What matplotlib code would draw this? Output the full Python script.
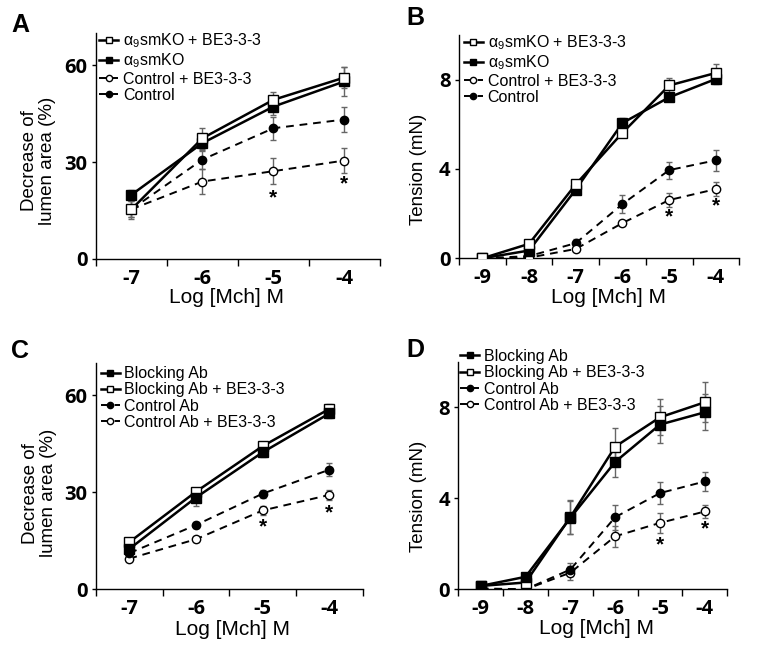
import matplotlib.pyplot as plt
import numpy as np

plt.rcParams['font.family'] = ['Liberation Sans', 'DejaVu Sans']
plt.rcParams['mathtext.fontset'] = 'custom'
plt.rcParams['mathtext.rm'] = 'Liberation Sans'
plt.rcParams['mathtext.it'] = 'Liberation Sans'

# ---- data ----
# panel A : lumen area, alpha9smKO mice
xA = [-7, -6, -5, -4]
a_ko_be = [15.4, 37.4, 49.3, 56.2]
a_ko_be_err = [2.5, 3.2, 2.4, 3.3]
a_ko = [19.9, 35.9, 47.2, 55.0]
a_ko_err = [1.5, 2.5, 2.5, 4.4]
a_ctl_be = [15.4, 24.0, 27.2, 30.5]
a_ctl_be_err = [3.0, 3.8, 4.0, 4.0]
a_ctl = [15.4, 30.8, 40.5, 43.2]
a_ctl_err = [2.5, 3.0, 3.5, 4.0]
a_star = [(-5, 19.0), (-4, 23.3)]

# panel B : tension, alpha9smKO mice
xB = [-9, -8, -7, -6, -5, -4]
b_ko_be = [0.0, 0.65, 3.31, 5.62, 7.74, 8.30]
b_ko_be_err = [0.0, 0.1, 0.1, 0.15, 0.33, 0.38]
b_ko = [0.0, 0.35, 3.08, 6.06, 7.21, 8.03]
b_ko_err = [0.0, 0.1, 0.1, 0.2, 0.15, 0.24]
b_ctl_be = [0.0, 0.03, 0.42, 1.58, 2.61, 3.10]
b_ctl_be_err = [0.0, 0.0, 0.1, 0.1, 0.3, 0.33]
b_ctl = [0.0, 0.1, 0.68, 2.43, 3.95, 4.39]
b_ctl_err = [0.0, 0.05, 0.2, 0.4, 0.38, 0.47]
b_star = [(-5, 1.85), (-4, 2.35)]

# panel C : lumen area, blocking antibody
xC = [-7, -6, -5, -4]
c_blk = [12.5, 28.4, 42.4, 54.4]
c_blk_err = [1.5, 2.7, 1.5, 1.5]
c_blk_be = [14.6, 30.2, 44.3, 55.8]
c_blk_be_err = [1.0, 1.2, 1.2, 1.4]
c_ctl = [11.2, 19.9, 29.6, 37.0]
c_ctl_err = [1.0, 1.0, 1.2, 2.0]
c_ctl_be = [9.5, 15.5, 24.4, 29.2]
c_ctl_be_err = [0.8, 0.8, 1.5, 1.5]
c_star = [(-5, 19.3), (-4, 23.5)]

# panel D : tension, blocking antibody
xD = [-9, -8, -7, -6, -5, -4]
d_blk = [0.15, 0.55, 3.14, 5.60, 7.24, 7.78]
d_blk_err = [0.05, 0.15, 0.73, 0.65, 0.8, 0.8]
d_blk_be = [0.15, 0.30, 3.17, 6.27, 7.56, 8.22]
d_blk_be_err = [0.05, 0.1, 0.76, 0.83, 0.8, 0.87]
d_ctl = [0.04, 0.0, 0.87, 3.17, 4.23, 4.74]
d_ctl_err = [0.0, 0.0, 0.3, 0.55, 0.47, 0.42]
d_ctl_be = [0.0, 0.0, 0.73, 2.33, 2.92, 3.42]
d_ctl_be_err = [0.0, 0.0, 0.3, 0.47, 0.44, 0.3]
d_star = [(-5, 1.95), (-4, 2.65)]

KO_BE = 'α$_9$smKO + BE3-3-3'
KO = 'α$_9$smKO'


def series(ax, x, y, err, label, marker, filled, dashed):
    ax.errorbar(x, y, yerr=err, fmt='none', ecolor='#666666', elinewidth=1.0,
                capsize=2, capthick=1.0, zorder=1)
    ax.plot(x, y, color='black', lw=1.4 if dashed else 1.8,
            ls=(0, (4, 3)) if dashed else '-', marker=marker, ms=6.5 if marker == 's' else 6,
            mfc='black' if filled else 'white', mec='black', mew=1.0,
            label=label, zorder=3)


def style(ax, xmin, ylim, yticks, ylabel, lab_xy, xlab_xy):
    ax.set_xlim(xmin - 0.5, -3.5)
    ax.set_ylim(0, ylim)
    ax.spines['top'].set_visible(False)
    ax.spines['right'].set_visible(False)
    ax.spines['left'].set_linewidth(1.0)
    ax.spines['bottom'].set_linewidth(1.0)
    ax.set_xticks(np.arange(xmin, -3, 1))
    ax.set_xticklabels([str(v) for v in range(xmin, -3)])
    ax.set_xticks(np.arange(xmin - 0.5, -3.4, 1), minor=True)
    ax.tick_params(axis='x', which='major', length=0, pad=7, labelsize=14.5)
    ax.tick_params(axis='x', which='minor', length=5, width=1.0, direction='out')
    ax.set_yticks(yticks)
    ax.tick_params(axis='y', length=3, width=1.0, pad=3, labelsize=14.5)
    for t in ax.get_xticklabels() + ax.get_yticklabels():
        t.set_fontweight('bold')
        t.set_family(['Open Sans', 'DejaVu Sans'])
    ax.set_ylabel(ylabel, fontsize=13.5, linespacing=1.1)
    ax.yaxis.set_label_coords(*lab_xy)
    ax.set_xlabel('Log [Mch] M', fontsize=15)
    ax.xaxis.set_label_coords(*xlab_xy)


def stars(ax, pts):
    for x, y in pts:
        ax.text(x, y, '*', ha='center', va='center', fontsize=15, fontweight='bold')


fig = plt.figure(figsize=(7.59, 6.57), dpi=100)
axA = fig.add_axes([0.1265, 0.6058, 0.374, 0.344])
axB = fig.add_axes([0.6047, 0.6068, 0.3693, 0.340])
axC = fig.add_axes([0.1265, 0.1030, 0.3514, 0.3445])
axD = fig.add_axes([0.6038, 0.1030, 0.3544, 0.3464])

# A
series(axA, xA, a_ctl, a_ctl_err, 'Control', 'o', True, True)
series(axA, xA, a_ctl_be, a_ctl_be_err, 'Control + BE3-3-3', 'o', False, True)
series(axA, xA, a_ko, a_ko_err, KO, 's', True, False)
series(axA, xA, a_ko_be, a_ko_be_err, KO_BE, 's', False, False)
style(axA, -7, 70, [0, 30, 60], 'Decrease of\nlumen area (%)', (-0.141, 0.434), (0.461, -0.13))
stars(axA, a_star)

# B
series(axB, xB, b_ctl, b_ctl_err, 'Control', 'o', True, True)
series(axB, xB, b_ctl_be, b_ctl_be_err, 'Control + BE3-3-3', 'o', False, True)
series(axB, xB, b_ko, b_ko_err, KO, 's', True, False)
series(axB, xB, b_ko_be, b_ko_be_err, KO_BE, 's', False, False)
style(axB, -9, 10, [0, 4, 8], 'Tension (mN)', (-0.114, 0.40), (0.535, -0.135))
stars(axB, b_star)

# C
series(axC, xC, c_ctl_be, c_ctl_be_err, 'Control Ab + BE3-3-3', 'o', False, True)
series(axC, xC, c_ctl, c_ctl_err, 'Control Ab', 'o', True, True)
series(axC, xC, c_blk_be, c_blk_be_err, 'Blocking Ab + BE3-3-3', 's', False, False)
series(axC, xC, c_blk, c_blk_err, 'Blocking Ab', 's', True, False)
style(axC, -7, 70, [0, 30, 60], 'Decrease of\nlumen area (%)', (-0.146, 0.425), (0.51, -0.135))
stars(axC, c_star)

# D
series(axD, xD, d_ctl_be, d_ctl_be_err, 'Control Ab + BE3-3-3', 'o', False, True)
series(axD, xD, d_ctl, d_ctl_err, 'Control Ab', 'o', True, True)
series(axD, xD, d_blk_be, d_blk_be_err, 'Blocking Ab + BE3-3-3', 's', False, False)
series(axD, xD, d_blk, d_blk_err, 'Blocking Ab', 's', True, False)
style(axD, -9, 10, [0, 4, 8], 'Tension (mN)', (-0.116, 0.407), (0.512, -0.13))
stars(axD, d_star)

# legends (reverse so order matches the figure)
for ax, anchor in [(axA, (0.0, 1.02)), (axB, (0.005, 1.02)), (axC, (0.005, 1.0)), (axD, (-0.005, 1.07))]:
    h, l = ax.get_legend_handles_labels()
    ax.legend(h[::-1], l[::-1], loc='upper left', bbox_to_anchor=anchor, frameon=False,
              fontsize=11.5, handlelength=1.2, handletextpad=0.3, labelspacing=0.08,
              borderpad=0.2, borderaxespad=0, markerscale=0.75)

# panel letters
for txt, x, y in [('A', 0.015, 0.962), ('B', 0.535, 0.972), ('C', 0.015, 0.465), ('D', 0.535, 0.467)]:
    fig.text(x, y, txt, fontsize=18, fontweight='bold', ha='left', va='center')

fig.savefig('out.png', dpi=100)
